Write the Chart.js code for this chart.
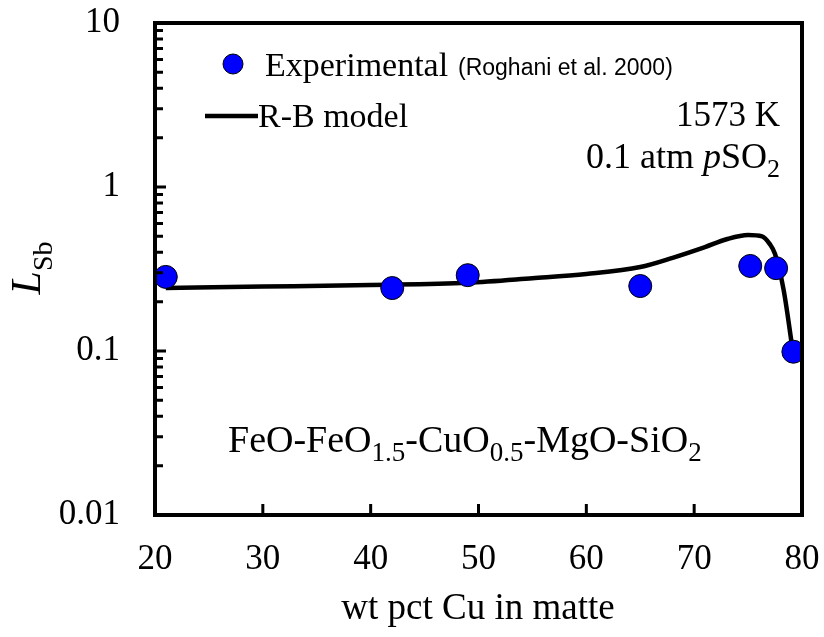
<!DOCTYPE html>
<html>
<head>
<meta charset="utf-8">
<script src="https://cdn.jsdelivr.net/npm/chart.js@4.4.0/dist/chart.umd.min.js"></script>
<style>
  html, body { margin: 0; padding: 0; background: #fff; }
</style>
</head>
<body>
<canvas id="lsbChart" width="824" height="637"></canvas>
<script>
// experimental points (Roghani et al. 2000)
const expCu = [21, 42, 49, 65, 75.2, 77.6, 79.2];
const expLsb = [0.283, 0.242, 0.29, 0.249, 0.33, 0.32, 0.099];

// R-B model curve
const modelCu = [21, 30, 40, 49, 55, 60, 65, 68, 71, 73, 75, 76.3, 77, 77.5, 78.3, 79.1];
const modelLsb = [0.242, 0.247, 0.253, 0.261, 0.278, 0.295, 0.325, 0.37, 0.43, 0.48, 0.51, 0.5, 0.45, 0.39, 0.235, 0.105];

const xTicks = [20, 30, 40, 50, 60, 70, 80];
const yTicks = [0.01, 0.1, 1, 10];

const serif = "'Liberation Serif', 'Times New Roman', serif";
const sans = "'Liberation Sans', Arial, sans-serif";

// draws a list of [text, font, dy] pieces in a row
function drawPieces(ctx, pieces, x, y, align) {
    let total = 0;
    pieces.forEach(p => { ctx.font = p[1]; total += ctx.measureText(p[0]).width; });
    let cx = align === 'right' ? x - total : (align === 'center' ? x - total / 2 : x);
    pieces.forEach(p => {
        ctx.font = p[1];
        ctx.fillText(p[0], cx, y + (p[2] || 0));
        cx += ctx.measureText(p[0]).width;
    });
    return total;
}

const decorPlugin = {
    id: 'decor',
    afterDraw(chart) {
        const ctx = chart.ctx;
        const a = chart.chartArea;
        const xs = chart.scales.x, ys = chart.scales.y;
        ctx.save();
        ctx.strokeStyle = '#000';
        ctx.fillStyle = '#000';

        // inside tick marks
        ctx.lineWidth = 3;
        ctx.beginPath();
        xTicks.slice(1, -1).forEach(v => {
            const px = xs.getPixelForValue(v);
            ctx.moveTo(px, a.bottom);
            ctx.lineTo(px, a.bottom - 11);
        });
        [0.01, 0.1, 1].forEach(d => {
            for (let k = 1; k <= 9; k++) {
                const py = ys.getPixelForValue(d * k);
                ctx.moveTo(a.left, py);
                ctx.lineTo(a.left + (k === 1 ? 11 : 8), py);
            }
        });
        ctx.stroke();

        // frame
        ctx.lineWidth = 4;
        ctx.strokeRect(a.left, a.top, a.right - a.left, a.bottom - a.top);

        ctx.textBaseline = 'alphabetic';

        // legend
        ctx.beginPath();
        ctx.arc(233, 64, 10, 0, Math.PI * 2);
        ctx.fillStyle = '#0000ff';
        ctx.fill();
        ctx.lineWidth = 1;
        ctx.stroke();
        ctx.fillStyle = '#000';
        ctx.font = '34px ' + serif;
        ctx.fillText('Experimental', 265, 76);
        ctx.font = '23px ' + sans;
        ctx.fillText('(Roghani et al. 2000)', 458, 75);

        ctx.lineWidth = 4.5;
        ctx.beginPath();
        ctx.moveTo(205, 116);
        ctx.lineTo(258, 116);
        ctx.stroke();
        ctx.font = '34px ' + serif;
        ctx.fillText('R-B model', 258, 127);

        // conditions
        drawPieces(ctx, [['1573 K', '35px ' + serif]], 780, 126, 'right');
        drawPieces(ctx, [
            ['0.1 atm ', '36px ' + serif],
            ['p', 'italic 36px ' + serif],
            ['SO', '36px ' + serif],
            ['2', '26px ' + serif, 9]
        ], 780, 168, 'right');

        // slag system
        drawPieces(ctx, [
            ['FeO-FeO', '38px ' + serif],
            ['1.5', '27px ' + serif, 9],
            ['-CuO', '38px ' + serif],
            ['0.5', '27px ' + serif, 9],
            ['-MgO-SiO', '38px ' + serif],
            ['2', '27px ' + serif, 9]
        ], 228, 452, 'left');

        // axis titles
        drawPieces(ctx, [['wt pct Cu in matte', '37px ' + serif]], 478, 619, 'center');

        ctx.translate(40, 268);
        ctx.rotate(-Math.PI / 2);
        drawPieces(ctx, [
            ['L', 'italic 42px ' + serif],
            ['Sb', '28px ' + serif, 12]
        ], 0, 0, 'center');
        ctx.restore();
    }
};

const renderChart = () => {
    const ctx = document.getElementById('lsbChart').getContext('2d');

    new Chart(ctx, {
        type: 'scatter',
        data: {
            datasets: [{
                label: 'Experimental',
                data: expCu.map((x, i) => ({ x: x, y: expLsb[i] })),
                backgroundColor: '#0000ff',
                borderColor: '#000',
                borderWidth: 1,
                pointRadius: 11.5,
                pointHoverRadius: 11.5
            }, {
                label: 'R-B model',
                data: modelCu.map((x, i) => ({ x: x, y: modelLsb[i] })),
                showLine: true,
                borderColor: '#000',
                borderWidth: 4.5,
                pointRadius: 0,
                cubicInterpolationMode: 'monotone',
                fill: false
            }]
        },
        options: {
            responsive: false,
            animation: false,
            events: [],
            layout: { padding: { top: 23, right: 22, left: 0, bottom: 0 } },
            plugins: {
                legend: { display: false },
                tooltip: { enabled: false }
            },
            scales: {
                x: {
                    type: 'linear',
                    min: 20,
                    max: 80,
                    afterFit: s => { s.height = 122; s.paddingLeft = 0; s.paddingRight = 0; },
                    afterBuildTicks: s => { s.ticks = xTicks.map(v => ({ value: v })); },
                    grid: { display: false, drawTicks: false },
                    border: { display: false },
                    ticks: {
                        padding: 24,
                        maxRotation: 0,
                        color: '#000',
                        font: { family: serif, size: 35 }
                    }
                },
                y: {
                    type: 'logarithmic',
                    min: 0.01,
                    max: 10,
                    afterFit: s => { s.width = 155; s.paddingTop = 0; s.paddingBottom = 0; },
                    afterBuildTicks: s => { s.ticks = yTicks.map(v => ({ value: v })); },
                    grid: { display: false, drawTicks: false },
                    border: { display: false },
                    ticks: {
                        padding: 35,
                        color: '#000',
                        font: { family: serif, size: 35 },
                        callback: v => String(v)
                    }
                }
            }
        },
        plugins: [decorPlugin]
    });
};

document.addEventListener('DOMContentLoaded', renderChart);
</script>
</body>
</html>
